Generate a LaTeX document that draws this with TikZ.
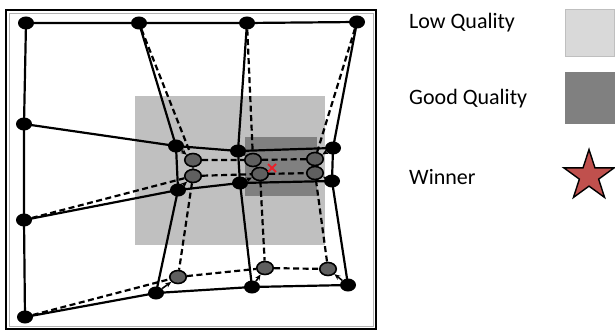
\documentclass[tikz,border=0pt]{standalone}
\usepackage{fontspec}
\setmainfont{Carlito}
\usetikzlibrary{shapes.geometric,arrows.meta,backgrounds}
\definecolor{lowq}{HTML}{C0C0C0}
\definecolor{goodq}{HTML}{808080}
\definecolor{legendlow}{HTML}{D9D9D9}
\definecolor{legendlowborder}{HTML}{BFBFBF}
\definecolor{starred}{HTML}{C0504D}
\definecolor{gfill}{HTML}{5F5F5F}
\definecolor{redx}{HTML}{E8232B}
\begin{document}
\begin{tikzpicture}[x=1pt,y=-1pt,
  bnode/.style={ellipse,fill=black,minimum width=16pt,minimum height=13pt,inner sep=0pt},
  gnode/.style={ellipse,fill=gfill,draw=black,line width=1.6pt,minimum width=16.5pt,minimum height=13pt,inner sep=0pt},
  solidedge/.style={line width=2.2pt},
  dashedge/.style={line width=2.2pt,dash pattern=on 6pt off 3.5pt},
  moveedge/.style={line width=1.6pt,-{Stealth[length=6pt,width=5pt]}},
  legendtext/.style={anchor=west,font=\fontsize{22}{26}\selectfont,inner sep=0pt}]
\useasboundingbox (0,0) rectangle (615,331);
% frame
\draw[line width=2.2pt] (6,10) rectangle (376,329);
\draw[gray!60,line width=0.6pt] (9,13) rectangle (373,326);
% black nodes
\node[bnode] (b11) at (26,23) {};
\node[bnode] (b12) at (139,23) {};
\node[bnode] (b13) at (247,23) {};
\node[bnode] (b14) at (357,22) {};
\node[bnode] (b21) at (24,124) {};
\node[bnode] (b22) at (176,146) {};
\node[bnode] (b23) at (238,151) {};
\node[bnode] (b24) at (333,148) {};
\node[bnode] (b31) at (24,220) {};
\node[bnode] (b32) at (178,190) {};
\node[bnode] (b33) at (240,183) {};
\node[bnode] (b34) at (332,181) {};
\node[bnode] (b41) at (25,317) {};
\node[bnode] (b42) at (156,293) {};
\node[bnode] (b43) at (252,287) {};
\node[bnode] (b44) at (348,285) {};
% gray nodes
\node[gnode] (g22) at (193,160) {};
\node[gnode] (g23) at (253,160) {};
\node[gnode] (g24) at (315,159) {};
\node[gnode] (g32) at (193,176) {};
\node[gnode] (g33) at (260,174) {};
\node[gnode] (g34) at (315,173) {};
\node[gnode] (g42) at (178,277) {};
\node[gnode] (g43) at (265,268) {};
\node[gnode] (g44) at (328,269) {};
\begin{scope}[on background layer]
  \fill[lowq] (135,96) rectangle (325,245);
  \fill[goodq] (245,137) rectangle (317,196);
  % solid grid
  \draw[solidedge] (b11.center) -- (b12.center) -- (b13.center) -- (b14.center);
  \draw[solidedge] (b21.center) -- (b22.center) -- (b23.center) -- (b24.center);
  \draw[solidedge] (b31.center) -- (b32.center) -- (b33.center) -- (b34.center);
  \draw[solidedge] (b41.center) -- (b42.center) -- (b43.center) -- (b44.center);
  \draw[solidedge] (b11.center) -- (b21.center) -- (b31.center) -- (b41.center);
  \draw[solidedge] (b12.center) -- (b22.center) -- (b32.center) -- (b42.center);
  \draw[solidedge] (b13.center) -- (b23.center) -- (b33.center) -- (b43.center);
  \draw[solidedge] (b14.center) -- (b24.center) -- (b34.center) -- (b44.center);
  % dashed grid
  \draw[dashedge] (b12) -- (g22) -- (g32) -- (g42);
  \draw[dashedge] (b13) -- (g23) -- (g33) -- (g43);
  \draw[dashedge] (b14) -- (g24) -- (g34) -- (g44);
  \draw[dashedge] (g22) -- (g23) -- (g24);
  \draw[dashedge] (b31) -- (g32) -- (g33) -- (g34);
  \draw[dashedge] (b41) -- (g42) -- (g43) -- (g44);
\end{scope}
% displacement arrows
\draw[moveedge] (b22) -- (g22);
\draw[moveedge] (b23) -- (g23);
\draw[moveedge] (b24) -- (g24);
\draw[moveedge] (b32) -- (g32);
\draw[moveedge] (b33) -- (g33);
\draw[moveedge] (b34) -- (g34);
\draw[moveedge] (b42) -- (g42);
\draw[moveedge] (b43) -- (g43);
\draw[moveedge] (b44) -- (g44);
% winner mark
\draw[redx,line width=1.8pt] (268,164) -- (276,172) (268,172) -- (276,164);
% legend
\node[legendtext] (lowlbl) at (409,23) {Low Quality};
\node[legendtext] (goodlbl) at (409,99) {Good Quality};
\node[legendtext] (winlbl) at (409,177) {Winner};
\filldraw[fill=legendlow,draw=legendlowborder,line width=1pt] (565,9.5) rectangle (614.5,57);
\fill[goodq] (565,72) rectangle (615,124);
\node[star,star points=5,star point ratio=2.618,minimum size=53pt,inner sep=0pt,fill=starred,draw=black,line width=1.4pt] (winstar) at (589,176) {};
\end{tikzpicture}
\end{document}
